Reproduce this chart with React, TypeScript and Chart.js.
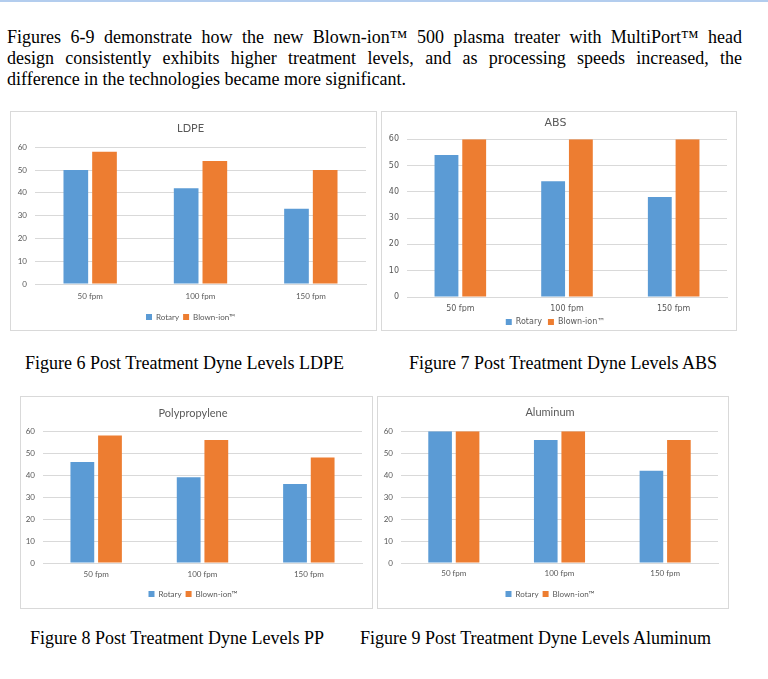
import { useEffect, useRef } from 'react'
import { Chart, registerables } from 'chart.js'

Chart.register(...registerables)

// categories / series / ticks
const speeds = ['50 fpm', '100 fpm', '150 fpm']
const seriesNames = ['Rotary', 'Blown-ion™']
const yTicks = [0, 10, 20, 30, 40, 50, 60]

const ldpeRotary = [50, 42, 33]
const ldpeBlown = [58, 54, 50]
const absRotary = [54, 44, 38]
const absBlown = [60, 60, 60]
const ppRotary = [46, 39, 36]
const ppBlown = [58, 56, 48]
const alRotary = [60, 56, 42]
const alBlown = [60, 60, 56]

const paragraphLines = [
  'Figures 6-9 demonstrate how the new Blown-ion™ 500 plasma treater with MultiPort™ head',
  'design consistently exhibits higher treatment levels, and as processing speeds increased, the',
  'difference in the technologies became more significant.'
]

const BLUE = '#5b9bd5'
const ORANGE = '#ed7d31'
const GRID = '#d9d9d9'
const TEXT = '#595959'

type Fit = {
  padL: number
  padR: number
  padB: number
  yW: number
  titleTop: number
  titleBottom: number
  xH: number
  xPad: number
  legendPad: number
}

type Props = {
  title: string
  rotary: number[]
  blown: number[]
  left: number
  top: number
  width: number
  height: number
  fit: Fit
  family: string
  titleSize: number
}

function DyneChart({ title, rotary, blown, left, top, width, height, fit, family, titleSize }: Props) {
  const canvasRef = useRef<HTMLCanvasElement | null>(null)

  useEffect(() => {
    if (!canvasRef.current) return
    const font = { family, size: 8 }
    const chart = new Chart(canvasRef.current, {
      type: 'bar',
      data: {
        labels: speeds,
        datasets: [
          { label: seriesNames[0], data: rotary, backgroundColor: BLUE },
          { label: seriesNames[1], data: blown, backgroundColor: ORANGE }
        ]
      },
      options: {
        animation: false,
        responsive: true,
        maintainAspectRatio: false,
        datasets: { bar: { categoryPercentage: 0.52, barPercentage: 0.86 } },
        layout: { padding: { left: fit.padL, right: fit.padR, top: 0, bottom: fit.padB } },
        scales: {
          x: {
            grid: { display: false, drawTicks: false },
            border: { color: GRID },
            ticks: { color: TEXT, font, padding: fit.xPad },
            afterFit: (s: any) => {
              s.height = fit.xH
            }
          },
          y: {
            min: yTicks[0],
            max: yTicks[yTicks.length - 1],
            ticks: { stepSize: yTicks[1] - yTicks[0], color: TEXT, font, padding: 8 },
            grid: { color: GRID, drawTicks: false },
            border: { display: false },
            afterFit: (s: any) => {
              s.width = fit.yW
            }
          }
        },
        plugins: {
          title: {
            display: true,
            text: title,
            color: TEXT,
            font: { family, size: titleSize, weight: 'normal' },
            padding: { top: fit.titleTop, bottom: fit.titleBottom }
          },
          legend: {
            position: 'bottom',
            labels: { boxWidth: 6, boxHeight: 6, color: TEXT, font, padding: fit.legendPad }
          },
          tooltip: { enabled: false }
        }
      }
    })
    return () => chart.destroy()
  }, [title, rotary, blown, fit, family, titleSize])

  return (
    <div
      style={{
        position: 'absolute',
        left,
        top,
        width,
        height,
        border: `1px solid ${GRID}`,
        boxSizing: 'border-box',
        background: '#fff'
      }}>
      <div style={{ position: 'relative', width: '100%', height: '100%' }}>
        <canvas ref={canvasRef} />
      </div>
    </div>
  )
}

const serif = '"Liberation Serif", "Times New Roman", serif'
const calibriLike = 'Lato, "Open Sans", sans-serif'

const captionStyle = {
  position: 'absolute' as const,
  fontFamily: serif,
  fontSize: 18,
  lineHeight: '21px',
  color: '#000',
  whiteSpace: 'nowrap' as const
}

export default function App() {
  return (
    <div
      style={{
        position: 'absolute',
        left: 0,
        top: 0,
        width: 768,
        height: 679,
        background: '#fff',
        overflow: 'hidden'
      }}>
      <div style={{ position: 'absolute', left: 0, top: 0, width: 768, height: 2, background: '#b3cdee' }} />
      <div
        style={{
          position: 'absolute',
          left: 7,
          top: 27,
          width: 735,
          fontFamily: serif,
          fontSize: 18,
          lineHeight: '21px',
          color: '#000'
        }}>
        {paragraphLines.map((line, i) => (
          <div
            key={i}
            style={{
              textAlign: 'justify',
              textAlignLast: i < paragraphLines.length - 1 ? 'justify' : 'left',
              whiteSpace: 'nowrap'
            }}>
            {line}
          </div>
        ))}
      </div>

      <DyneChart
        title="LDPE"
        rotary={ldpeRotary}
        blown={ldpeBlown}
        left={10}
        top={111}
        width={367}
        height={220}
        family={calibriLike}
        titleSize={11}
        fit={{ padL: 4, padR: 10, padB: -1, yW: 20, titleTop: 10, titleBottom: 12, xH: 25, xPad: 8, legendPad: 4 }}
      />
      <DyneChart
        title="ABS"
        rotary={absRotary}
        blown={absBlown}
        left={381}
        top={111}
        width={356}
        height={220}
        family={'"DejaVu Sans", Verdana, sans-serif'}
        titleSize={11}
        fit={{ padL: 2, padR: 9, padB: -6, yW: 23, titleTop: 5, titleBottom: 9, xH: 15, xPad: 7, legendPad: 6 }}
      />
      <div style={{ ...captionStyle, left: 25, top: 353 }}>Figure 6 Post Treatment Dyne Levels LDPE</div>
      <div style={{ ...captionStyle, left: 409, top: 353 }}>Figure 7 Post Treatment Dyne Levels ABS</div>

      <DyneChart
        title="Polypropylene"
        rotary={ppRotary}
        blown={ppBlown}
        left={20}
        top={396}
        width={353}
        height={213}
        family={calibriLike}
        titleSize={11}
        fit={{ padL: 3, padR: 10, padB: 0, yW: 19, titleTop: 10, titleBottom: 11, xH: 23, xPad: 7, legendPad: 4 }}
      />
      <DyneChart
        title="Aluminum"
        rotary={alRotary}
        blown={alBlown}
        left={377}
        top={396}
        width={352}
        height={213}
        family={calibriLike}
        titleSize={11}
        fit={{ padL: 4, padR: 10, padB: 0, yW: 19, titleTop: 9, titleBottom: 12, xH: 23, xPad: 6, legendPad: 4 }}
      />
      <div style={{ ...captionStyle, left: 30, top: 628 }}>Figure 8 Post Treatment Dyne Levels PP</div>
      <div style={{ ...captionStyle, left: 360, top: 628 }}>Figure 9 Post Treatment Dyne Levels Aluminum</div>
    </div>
  )
}
